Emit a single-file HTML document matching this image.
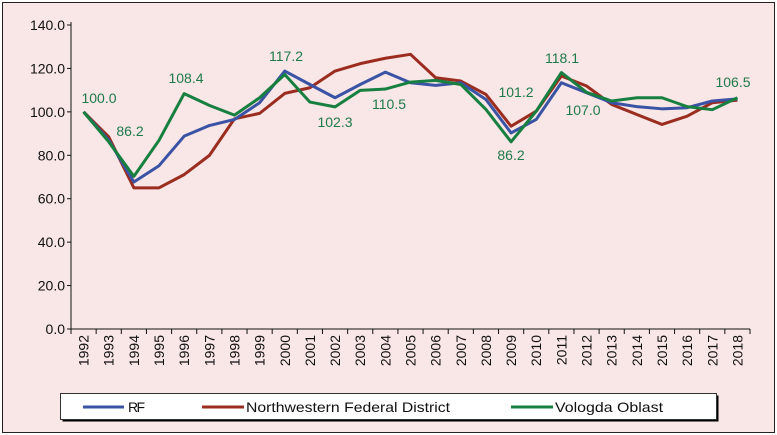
<!DOCTYPE html>
<html><head><meta charset="utf-8"><style>
body{margin:0;background:#fff}
svg{display:block;font-family:"Liberation Sans",sans-serif}
</style></head><body>
<svg id="c" width="777" height="435" xmlns="http://www.w3.org/2000/svg">
<rect x="0" y="0" width="777" height="435" fill="#ffffff"/>
<rect x="2.5" y="2.5" width="772" height="430" fill="#f9e6e6" stroke="#222" stroke-width="1"/>
<g id="grid"></g>
<g id="lines"></g>
<g id="labels"></g>
<g>
<rect x="60.5" y="393.5" width="656" height="26" fill="#000" transform="translate(2,2)"/>
<rect x="60.5" y="393.5" width="656" height="26" fill="#fff" stroke="#333"/>
<line x1="83" y1="407" x2="124" y2="407" stroke="#3a53a4" stroke-width="3"/>
<text x="128" y="412" font-size="14" fill="#111" textLength="17">RF</text>
<line x1="202" y1="407" x2="244" y2="407" stroke="#9b2d20" stroke-width="3"/>
<text x="246" y="412" font-size="14" fill="#111" textLength="204" lengthAdjust="spacingAndGlyphs">Northwestern Federal District</text>
<line x1="511" y1="407" x2="553" y2="407" stroke="#178040" stroke-width="3"/>
<text x="555" y="412" font-size="14" fill="#111" textLength="108" lengthAdjust="spacingAndGlyphs">Vologda Oblast</text>
</g>
</svg>
<script>
const years=[1992,1993,1994,1995,1996,1997,1998,1999,2000,2001,2002,2003,2004,2005,2006,2007,2008,2009,2010,2011,2012,2013,2014,2015,2016,2017,2018];
const rf=[100,87,67.7,75.2,88.8,93.7,96.5,104.2,118.8,112.6,106.5,112.6,118.3,113.4,112.2,113.4,105.7,90.3,96.5,113.4,108.8,104.2,102.4,101.4,101.9,105,106];
const nwfd=[100,88.5,65,65,71.1,79.9,96.8,99.3,108.5,111.1,118.8,122.2,124.7,126.5,115.7,114.2,108,93.4,100.3,116.5,111.9,103.4,98.8,94.2,98,104.2,105.4];
const vologda=[100,86.2,70.3,86.9,108.4,103,98.5,106.5,117.2,104.5,102.3,109.9,110.5,113.7,114.5,112.6,101.1,86.2,100.3,118.1,109,105,106.5,106.5,102.4,101,106.5];
const yTicks=[0,20,40,60,80,100,120,140];
const labelTexts=["100.0","86.2","108.4","117.2","102.3","110.5","101.2","86.2","118.1","107.0","106.5"];
const labelPos=[[99,103],[130,136],[186,83],[286,61],[335,127],[389,109],[516,97],[511,160],[562,63],[583,115],[733,87]];
const NS="http://www.w3.org/2000/svg";
const L=71,R=750,T=25,B=329,vmax=140;
const step=(R-L)/years.length;
const x=i=>L+step*(i+0.5);
const y=v=>B-(v/vmax)*(B-T);
function mk(t,a,p){const e=document.createElementNS(NS,t);for(const k in a)e.setAttribute(k,a[k]);p.appendChild(e);return e;}
const g=document.getElementById('grid');
const ax=mk('line',{x1:L,y1:T-3,x2:L,y2:B,stroke:'#111','stroke-width':1},g);


const xa=mk('line',{x1:L,y1:B,x2:R,y2:B,stroke:'#111','stroke-width':1},g);


yTicks.forEach(v=>{
 mk('line',{x1:L-4,y1:y(v),x2:L,y2:y(v),stroke:'#111'},g);
 const t=mk('text',{x:L-6,y:y(v)+5,'text-anchor':'end','font-size':14,fill:'#111'},g);
 t.textContent=v.toFixed(1);
 
 
});
for(let i=0;i<=years.length;i++){mk('line',{x1:L+step*i,y1:B,x2:L+step*i,y2:B+5,stroke:'#111'},g);}
years.forEach((yr,i)=>{
 const t=mk('text',{x:0,y:0,'text-anchor':'end','font-size':14,fill:'#111',transform:`translate(${x(i)+5},${B+6}) rotate(-90)`},g);
 t.textContent=yr;
 
 
});
const lg=document.getElementById('lines');
[[nwfd,'#9b2d20','nwfd-line'],[rf,'#3a53a4','rf-line'],[vologda,'#178040','vologda-line']].forEach(([d,c,n])=>{
 const p=mk('polyline',{points:d.map((v,i)=>x(i)+','+y(v)).join(' '),fill:'none',stroke:c,'stroke-width':3,'stroke-linejoin':'round'},lg);
 
 
});
const lb=document.getElementById('labels');
labelTexts.forEach((s,i)=>{
 const t=mk('text',{x:labelPos[i][0],y:labelPos[i][1],'text-anchor':'middle','font-size':14,fill:'#1f7a4a'},lb);
 t.textContent=s;
 
 
});
</script>
</body></html>
